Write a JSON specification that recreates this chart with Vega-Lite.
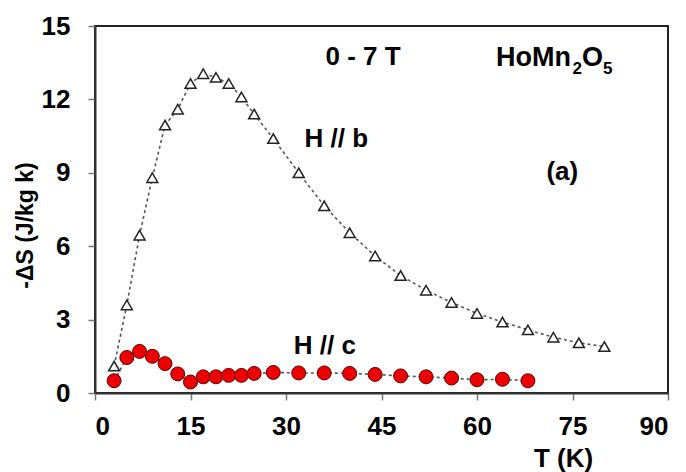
{
  "$schema": "https://vega.github.io/schema/vega-lite/v6.json",
  "width": 573,
  "height": 367,
  "autosize": {"type": "none"},
  "padding": {"left": 95, "top": 26, "right": 18, "bottom": 79},
  "background": "white",
  "config": {
    "view": {"stroke": "#222", "strokeWidth": 2},
    "font": "Liberation Sans",
    "axis": {
      "grid": false,
      "domainColor": "#333",
      "domainWidth": 2,
      "tickColor": "#777",
      "tickWidth": 1.5,
      "tickSize": 7,
      "labelFont": "Liberation Sans",
      "labelFontSize": 26,
      "labelFontWeight": "bold",
      "labelColor": "#000",
      "titleFont": "Liberation Sans",
      "titleFontSize": 26,
      "titleFontWeight": "bold",
      "titleColor": "#000"
    }
  },
  "datasets": {
    "entropy": [
      {"T": 3, "dS": 1.1, "field": "H // b"},
      {"T": 5, "dS": 3.6, "field": "H // b"},
      {"T": 7, "dS": 6.45, "field": "H // b"},
      {"T": 9, "dS": 8.8, "field": "H // b"},
      {"T": 11, "dS": 10.95, "field": "H // b"},
      {"T": 13, "dS": 11.6, "field": "H // b"},
      {"T": 15, "dS": 12.65, "field": "H // b"},
      {"T": 17, "dS": 13.05, "field": "H // b"},
      {"T": 19, "dS": 12.9, "field": "H // b"},
      {"T": 21, "dS": 12.65, "field": "H // b"},
      {"T": 23, "dS": 12.1, "field": "H // b"},
      {"T": 25, "dS": 11.4, "field": "H // b"},
      {"T": 28, "dS": 10.4, "field": "H // b"},
      {"T": 32, "dS": 9.0, "field": "H // b"},
      {"T": 36, "dS": 7.65, "field": "H // b"},
      {"T": 40, "dS": 6.55, "field": "H // b"},
      {"T": 44, "dS": 5.6, "field": "H // b"},
      {"T": 48, "dS": 4.8, "field": "H // b"},
      {"T": 52, "dS": 4.2, "field": "H // b"},
      {"T": 56, "dS": 3.7, "field": "H // b"},
      {"T": 60, "dS": 3.25, "field": "H // b"},
      {"T": 64, "dS": 2.9, "field": "H // b"},
      {"T": 68, "dS": 2.58, "field": "H // b"},
      {"T": 72, "dS": 2.28, "field": "H // b"},
      {"T": 76, "dS": 2.05, "field": "H // b"},
      {"T": 80, "dS": 1.9, "field": "H // b"},
      {"T": 3, "dS": 0.5, "field": "H // c"},
      {"T": 5, "dS": 1.45, "field": "H // c"},
      {"T": 7, "dS": 1.7, "field": "H // c"},
      {"T": 9, "dS": 1.5, "field": "H // c"},
      {"T": 11, "dS": 1.2, "field": "H // c"},
      {"T": 13, "dS": 0.78, "field": "H // c"},
      {"T": 15, "dS": 0.45, "field": "H // c"},
      {"T": 17, "dS": 0.66, "field": "H // c"},
      {"T": 19, "dS": 0.66, "field": "H // c"},
      {"T": 21, "dS": 0.72, "field": "H // c"},
      {"T": 23, "dS": 0.72, "field": "H // c"},
      {"T": 25, "dS": 0.8, "field": "H // c"},
      {"T": 28, "dS": 0.84, "field": "H // c"},
      {"T": 32, "dS": 0.82, "field": "H // c"},
      {"T": 36, "dS": 0.82, "field": "H // c"},
      {"T": 40, "dS": 0.8, "field": "H // c"},
      {"T": 44, "dS": 0.76, "field": "H // c"},
      {"T": 48, "dS": 0.7, "field": "H // c"},
      {"T": 52, "dS": 0.66, "field": "H // c"},
      {"T": 56, "dS": 0.61, "field": "H // c"},
      {"T": 60, "dS": 0.54, "field": "H // c"},
      {"T": 64, "dS": 0.56, "field": "H // c"},
      {"T": 68, "dS": 0.5, "field": "H // c"}
    ],
    "labels": [
      {"T": 42.1, "dS": 13.73, "text": "0 - 7 T"},
      {"T": 37.9, "dS": 10.38, "text": "H // b"},
      {"T": 73.4, "dS": 9.03, "text": "(a)"},
      {"T": 36.1, "dS": 1.92, "text": "H // c"}
    ],
    "formula": [
      {"T": 63.0, "dS": 13.7, "text": "HoMn"},
      {"T": 76.5, "dS": 13.7, "text": "O"}
    ],
    "subscripts": [
      {"T": 75.0, "dS": 13.25, "text": "2"},
      {"T": 79.8, "dS": 13.25, "text": "5"}
    ]
  },
  "encoding": {
    "x": {
      "field": "T",
      "type": "quantitative",
      "scale": {"domain": [0, 90], "nice": false, "zero": false},
      "axis": {
        "values": [0, 15, 30, 45, 60, 75, 90],
        "title": "T (K)",
        "labelPadding": 13,
        "titleX": 468,
        "titleY": 73,
        "titleAlign": "center",
        "titleBaseline": "alphabetic",
        "titleAnchor": null
      }
    },
    "y": {
      "field": "dS",
      "type": "quantitative",
      "scale": {"domain": [0, 15], "nice": false},
      "axis": {
        "values": [0, 3, 6, 9, 12, 15],
        "title": "-ΔS (J/kg k)",
        "titleFontSize": 23,
        "labelPadding": 18,
        "titleX": -70,
        "titleY": 199,
        "titleAngle": -90,
        "titleAlign": "center",
        "titleBaseline": "middle",
        "titleAnchor": null
      }
    }
  },
  "layer": [
    {
      "data": {"name": "entropy"},
      "mark": {"type": "line", "color": "#555", "strokeWidth": 1.6, "strokeDash": [3, 3]},
      "encoding": {"detail": {"field": "field"}}
    },
    {
      "data": {"name": "entropy"},
      "transform": [{"filter": "datum.field === 'H // b'"}],
      "mark": {"type": "point", "shape": "triangle-up", "filled": true, "fill": "white", "stroke": "#222", "strokeWidth": 1.5, "size": 120, "opacity": 1}
    },
    {
      "data": {"name": "entropy"},
      "transform": [{"filter": "datum.field === 'H // c'"}],
      "mark": {"type": "point", "shape": "circle", "filled": true, "fill": "#ee0000", "stroke": "#5a0000", "strokeWidth": 1, "size": 195, "opacity": 1}
    },
    {
      "data": {"name": "labels"},
      "mark": {"type": "text", "fontSize": 26, "fontWeight": "bold", "color": "#000", "align": "center", "baseline": "middle"},
      "encoding": {"text": {"field": "text"}}
    },
    {
      "data": {"name": "formula"},
      "mark": {"type": "text", "fontSize": 27, "fontWeight": "bold", "color": "#000", "align": "left", "baseline": "middle"},
      "encoding": {"text": {"field": "text"}}
    },
    {
      "data": {"name": "subscripts"},
      "mark": {"type": "text", "fontSize": 17, "fontWeight": "bold", "color": "#000", "align": "left", "baseline": "middle"},
      "encoding": {"text": {"field": "text"}}
    }
  ]
}
